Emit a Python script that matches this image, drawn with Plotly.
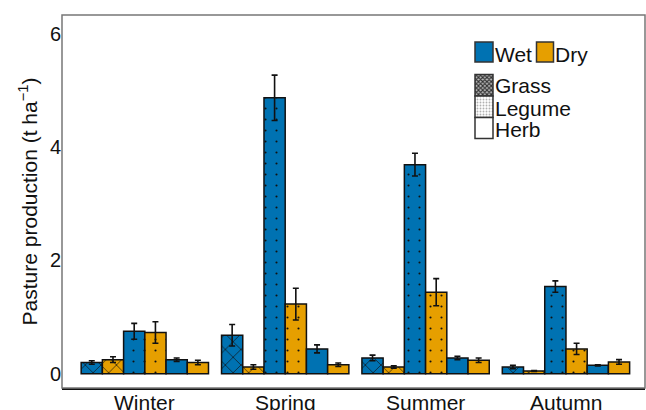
import plotly.graph_objects as go

seasons = ["Winter", "Spring", "Summer", "Autumn"]
grass_wet = [0.20, 0.68, 0.28, 0.12]
grass_wet_err = [0.03, 0.19, 0.05, 0.03]
grass_dry = [0.25, 0.12, 0.12, 0.05]
grass_dry_err = [0.05, 0.04, 0.02, 0.01]
legume_wet = [0.75, 4.87, 3.69, 1.54]
legume_wet_err = [0.14, 0.40, 0.20, 0.10]
legume_dry = [0.73, 1.23, 1.44, 0.44]
legume_dry_err = [0.19, 0.28, 0.24, 0.10]
herb_wet = [0.25, 0.44, 0.28, 0.15]
herb_wet_err = [0.03, 0.07, 0.03, 0.01]
herb_dry = [0.20, 0.16, 0.24, 0.21]
herb_dry_err = [0.04, 0.03, 0.04, 0.04]

BLUE = "#0072B2"
ORANGE = "#E69F00"
FONT = "Liberation Sans, Arial, sans-serif"

series = [
    ("Grass Wet", grass_wet, grass_wet_err, BLUE, "x"),
    ("Grass Dry", grass_dry, grass_dry_err, ORANGE, "x"),
    ("Legume Wet", legume_wet, legume_wet_err, BLUE, "."),
    ("Legume Dry", legume_dry, legume_dry_err, ORANGE, "."),
    ("Herb Wet", herb_wet, herb_wet_err, BLUE, ""),
    ("Herb Dry", herb_dry, herb_dry_err, ORANGE, ""),
]

fig = go.Figure()
for name, vals, errs, col, pat in series:
    marker = dict(color=col, line=dict(color="#111111", width=1.5))
    if pat:
        marker["pattern"] = dict(shape=pat, fgcolor="#111111", bgcolor=col, fillmode="replace",
                                 size=11, solidity=0.12 if pat == "x" else 0.03)
    fig.add_trace(go.Bar(
        x=seasons, y=vals, name=name, showlegend=False, marker=marker,
        error_y=dict(type="data", array=errs, color="#111111", thickness=1.6, width=3),
    ))

# target plot area in screen pixels: x 62..645, y 15..388
L, R, T, B = 62, 645, 15, 388
def px(x):
    return (x - L) / (R - L)
def py(y):
    return (B - y) / (B - T)

# legend swatches on an overlay axis measured in screen pixels
swatches = [
    # (left, width, top, bottom, colour, pattern, size, solidity, fg)
    (475, 18, 42, 62, BLUE, "", 8, 0.3, "#000"),
    (536.5, 17, 42, 62, ORANGE, "", 8, 0.3, "#000"),
    (475, 18, 74.5, 96, "#bbbbbb", "x", 3, 0.6, "#333333"),
    (475, 18, 96, 117.5, "white", ".", 3, 0.3, "#b0b0b0"),
    (475, 18, 117.5, 138.5, "white", "", 8, 0.3, "#000"),
]
for x0, w, top, bot, col, pat, sz, sol, fg in swatches:
    marker = dict(color=col, line=dict(color="#333333", width=1.5))
    if pat:
        marker["pattern"] = dict(shape=pat, fgcolor=fg, bgcolor=col,
                                 size=sz, solidity=sol, fillmode="replace")
    fig.add_trace(go.Bar(
        x=[x0], y=[bot - top], base=[-bot], width=[w], offset=0,
        xaxis="x2", yaxis="y2", showlegend=False, hoverinfo="skip", marker=marker,
    ))

annos = []
for txt, x, y in [("Wet", 493, 55), ("Dry", 552.5, 55), ("Grass", 493, 85.5),
                  ("Legume", 493, 108), ("Herb", 493, 129)]:
    annos.append(dict(text=txt, x=px(x), y=py(y), xref="paper", yref="paper",
                      xanchor="left", yanchor="middle", showarrow=False,
                      font=dict(size=21, color="#111111", family=FONT)))
for s in seasons:
    annos.append(dict(text=s, x=s, y=0, xref="x", yref="paper", xanchor="center",
                      yanchor="top", yshift=-1, showarrow=False,
                      font=dict(size=21, color="#111111", family=FONT)))

fig.update_layout(
    width=646, height=410,
    margin=dict(l=L, r=646 - R, t=T, b=410 - B, autoexpand=False),
    paper_bgcolor="white", plot_bgcolor="white",
    barmode="group", bargap=0.093, bargroupgap=0,
    font=dict(family=FONT, color="#111111"),
    xaxis=dict(range=[-0.590, 3.563], showgrid=False, showline=True,
               linecolor="#111111", linewidth=2, ticks="", automargin=False,
               showticklabels=False, zeroline=False),
    yaxis=dict(range=[-0.25, 6.33], showgrid=False, zeroline=False, automargin=False,
               tickvals=[0, 2, 4, 6], ticktext=["0", "2", "4", "6"], ticks="",
               tickfont=dict(size=20, color="#111111"),
               title=dict(text="Pasture production (t ha<sup>−1</sup>)",
                          font=dict(size=21, color="#111111"), standoff=6)),
    xaxis2=dict(domain=[px(470), px(560)], range=[470, 560], visible=False,
                anchor="y2", fixedrange=True),
    yaxis2=dict(domain=[py(145), py(35)], range=[-145, -35], visible=False,
                anchor="x2", fixedrange=True),
    annotations=annos,
    shapes=[dict(type="rect", xref="paper", yref="paper", x0=0, x1=1, y0=0, y1=1,
                 line=dict(color="#777777", width=1.5), layer="above")],
)

fig.write_html("out.html", config={"displayModeBar": False},
               post_script="document.body.style.margin='0px';document.body.style.overflow='hidden';")
